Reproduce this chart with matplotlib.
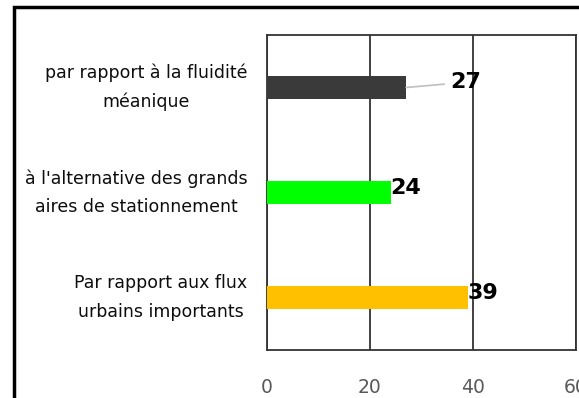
import matplotlib.pyplot as plt
from matplotlib.patches import Rectangle

categories = ["Par rapport aux flux\nurbains importants",
              "à l'alternative des grands\naires de stationnement",
              "par rapport à la fluidité\nméanique"]
values = [39, 24, 27]
colors = ["#ffc000", "#00ff00", "#3a3a3a"]
ticks = [0, 20, 40, 60]

plt.rcParams["font.family"] = ["DejaVu Sans"]

fig = plt.figure(figsize=(5.79, 3.98), dpi=100)
fig.patches.append(Rectangle((0.024, -0.05), 1.1, 1.032, transform=fig.transFigure,
                             fill=False, edgecolor="black", linewidth=2.5))

ax = fig.add_axes([0.461, 0.1206, 0.534, 0.7914])
pos = range(len(categories))
ax.barh(pos, values, height=0.21, color=colors, zorder=3)

ax.set_xlim(0, 60)
ax.set_ylim(-0.5, 2.5)
ax.set_xticks(ticks)
ax.set_yticks(list(pos))
ax.set_yticklabels(categories, fontsize=12.5, color="#0d0d0d", ha="right",
                   va="center", multialignment="center", linespacing=1.75)
ax.tick_params(axis="y", length=0, pad=14)
ax.tick_params(axis="x", length=0, pad=20, labelsize=13.5, labelcolor="#595959")
ax.grid(axis="x", color="#333333", linewidth=1.3, zorder=1)
for s in ax.spines.values():
    s.set_color("#333333")
    s.set_linewidth(1.3)

# value labels, the top one pushed out with a leader line
for i, v in enumerate(values):
    if i == 2:
        ax.annotate(str(v), xy=(v, i), xytext=(v + 8.5, i + 0.05),
                    fontsize=16, fontweight="bold", va="center", ha="left",
                    arrowprops=dict(arrowstyle="-", color="#bfbfbf", lw=1.2,
                                    shrinkA=2, shrinkB=0))
    else:
        ax.text(v, i + 0.04, str(v), fontsize=16, fontweight="bold",
                va="center", ha="left", zorder=4)

fig.savefig("out.png", dpi=100)
